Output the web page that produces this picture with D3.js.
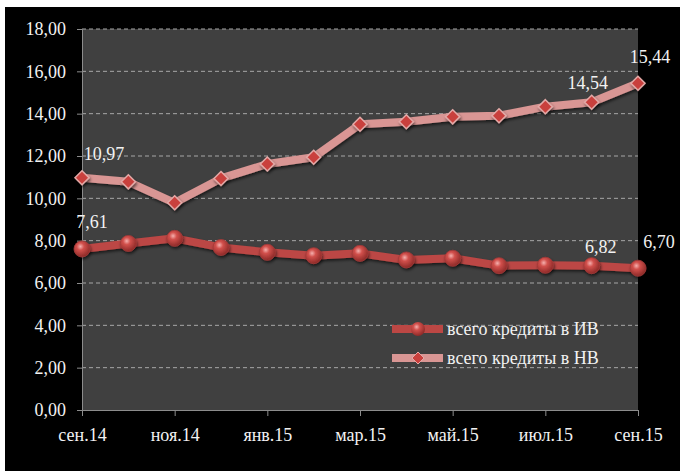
<!DOCTYPE html>
<html>
<head>
<meta charset="utf-8">
<script src="https://cdn.jsdelivr.net/npm/d3@7"></script>
<style>
  body { margin: 0; background: #fff; }
  text { font-family: "Liberation Serif", "Times New Roman", serif; fill: #f2f2f2; }
</style>
</head>
<body>
<script>
var W = 680, H = 471;
var margin = {top: 29, right: 42, bottom: 61, left: 82},
    width = W - margin.left - margin.right,
    height = H - margin.top - margin.bottom;

// months (every second one gets a label)
var months = ["сен.14", "окт.14", "ноя.14", "дек.14", "янв.15", "фев.15", "мар.15",
              "апр.15", "май.15", "июн.15", "июл.15", "авг.15", "сен.15"];
var seriesIV = [7.61, 7.87, 8.11, 7.68, 7.45, 7.29, 7.40, 7.09, 7.17, 6.82, 6.84, 6.82, 6.70];
var seriesNV = [10.97, 10.78, 9.79, 10.94, 11.62, 11.94, 13.50, 13.62, 13.85, 13.90, 14.33, 14.54, 15.44];
var yTicks = [0, 2, 4, 6, 8, 10, 12, 14, 16, 18];
var legendNames = ["всего кредиты в ИВ", "всего кредиты в НВ"];
var labelsIV = [0, 11, 12];   // indices that show a value
var labelsNV = [0, 11, 12];

var fmt = function(v) { return v.toFixed(2).replace(".", ","); };

var svg = d3.select("body").append("svg")
    .attr("width", W)
    .attr("height", H);

var defs = svg.append("defs");
var grad = defs.append("radialGradient").attr("id", "ball")
    .attr("cx", "40%").attr("cy", "35%").attr("r", "65%");
grad.append("stop").attr("offset", "0%").attr("stop-color", "#f4b0ae");
grad.append("stop").attr("offset", "35%").attr("stop-color", "#d2504c");
grad.append("stop").attr("offset", "100%").attr("stop-color", "#8e2a28");
var shadow = defs.append("filter").attr("id", "shadow")
    .attr("x", "-50%").attr("y", "-50%").attr("width", "200%").attr("height", "200%");
shadow.append("feDropShadow").attr("dx", 1).attr("dy", 2).attr("stdDeviation", 1.5)
    .attr("flood-color", "#000").attr("flood-opacity", 0.6);

// black card
svg.append("rect").attr("x", 5).attr("y", 7).attr("width", W - 5).attr("height", H - 7)
    .attr("fill", "#000");

var g = svg.append("g")
    .attr("transform", "translate(" + margin.left + "," + margin.top + ")");

var x = d3.scalePoint().domain(d3.range(months.length)).range([0, width]);
var y = d3.scaleLinear().domain([0, 18]).range([height, 0]);

g.append("rect").attr("width", width).attr("height", height).attr("fill", "#404040");

// gridlines
g.selectAll(".grid")
  .data(yTicks.filter(function(d) { return d > 0; }))
  .enter().append("line")
    .attr("x1", 0).attr("x2", width)
    .attr("y1", function(d) { return y(d); })
    .attr("y2", function(d) { return y(d); })
    .attr("stroke", "#a6a6a6")
    .attr("stroke-width", 1)
    .attr("stroke-dasharray", "4,3");

// y axis
var yAxis = g.append("g")
    .call(d3.axisLeft(y).tickValues(yTicks).tickSize(5).tickPadding(11).tickFormat(fmt));
yAxis.select(".domain").attr("stroke", "#8c8c8c");
yAxis.selectAll(".tick line").attr("stroke", "#8c8c8c");
yAxis.selectAll("text").attr("fill", "#f2f2f2").style("font-size", "18px")
    .style("font-family", "Liberation Serif, serif");

// x axis
var xAxis = g.append("g")
    .attr("transform", "translate(0," + height + ")")
    .call(d3.axisBottom(x)
      .tickValues(d3.range(0, months.length, 2))
      .tickSize(6).tickPadding(12)
      .tickFormat(function(i) { return months[i]; }));
xAxis.select(".domain").attr("stroke", "#8c8c8c");
xAxis.selectAll(".tick line").attr("stroke", "#8c8c8c");
xAxis.selectAll("text").attr("fill", "#f2f2f2").style("font-size", "18px")
    .style("font-family", "Liberation Serif, serif");

var line = d3.line()
    .x(function(d, i) { return x(i); })
    .y(function(d) { return y(d); });

function diamond(sel, s) {
  sel.attr("d", "M0," + (-s) + "L" + s + ",0L0," + s + "L" + (-s) + ",0Z");
}

// НВ series
g.append("path").datum(seriesNV)
    .attr("d", line)
    .attr("fill", "none")
    .attr("stroke", "#d99694")
    .attr("stroke-width", 8)
    .attr("stroke-linejoin", "round")
    .attr("filter", "url(#shadow)");
g.selectAll(".nv")
  .data(seriesNV)
  .enter().append("path")
    .attr("transform", function(d, i) { return "translate(" + x(i) + "," + y(d) + ")"; })
    .call(diamond, 7)
    .attr("fill", "#c9403d")
    .attr("stroke", "#e3a9a7")
    .attr("stroke-width", 1.5)
    .attr("filter", "url(#shadow)");

// ИВ series
g.append("path").datum(seriesIV)
    .attr("d", line)
    .attr("fill", "none")
    .attr("stroke", "#bc4744")
    .attr("stroke-width", 8)
    .attr("stroke-linejoin", "round")
    .attr("filter", "url(#shadow)");
g.selectAll(".iv")
  .data(seriesIV)
  .enter().append("circle")
    .attr("cx", function(d, i) { return x(i); })
    .attr("cy", function(d) { return y(d); })
    .attr("r", 8)
    .attr("fill", "url(#ball)")
    .attr("stroke", "#a33a38")
    .attr("stroke-width", 0.8)
    .attr("filter", "url(#shadow)");

// data labels
var offIV = {0: [10, -21], 11: [9, -13], 12: [21, -20]};
var offNV = {0: [22, -18], 11: [-4, -13], 12: [12, -20]};
function addLabels(idx, data, off) {
  g.selectAll(null)
    .data(idx)
    .enter().append("text")
      .attr("x", function(i) { return x(i) + off[i][0]; })
      .attr("y", function(i) { return y(data[i]) + off[i][1]; })
      .attr("text-anchor", "middle")
      .style("font-size", "18px")
      .text(function(i) { return fmt(data[i]); });
}
addLabels(labelsIV, seriesIV, offIV);
addLabels(labelsNV, seriesNV, offNV);

// legend
var legend = svg.append("g").attr("transform", "translate(392,329)");
var items = legend.selectAll("g")
  .data(legendNames)
  .enter().append("g")
    .attr("transform", function(d, i) { return "translate(0," + i * 29 + ")"; });
items.append("line")
    .attr("x1", 0).attr("x2", 51)
    .attr("stroke", function(d, i) { return i === 0 ? "#bc4744" : "#d99694"; })
    .attr("stroke-width", 8);
items.filter(function(d, i) { return i === 0; }).append("circle")
    .attr("cx", 26).attr("r", 7).attr("fill", "url(#ball)");
items.filter(function(d, i) { return i === 1; }).append("path")
    .attr("transform", "translate(26,0)")
    .call(diamond, 6)
    .attr("fill", "#c9403d").attr("stroke", "#e3a9a7");
items.append("text")
    .attr("x", 55)
    .attr("dy", "0.35em")
    .style("font-size", "18px")
    .text(function(d) { return d; });
</script>
</body>
</html>
